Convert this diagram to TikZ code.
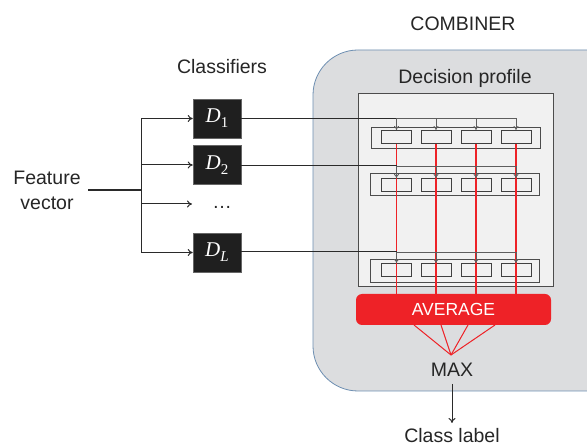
\documentclass[tikz,border=0pt]{standalone}
\usepackage{fontspec}
\setmainfont{Liberation Sans}
\newfontfamily\timesf{Liberation Serif}
\usetikzlibrary{arrows.meta}
\definecolor{cred}{HTML}{EE2227}
\definecolor{combfill}{HTML}{DCDDDF}
\definecolor{combline}{HTML}{6E8FB2}
\definecolor{proffill}{HTML}{F1F1F1}
\definecolor{darkl}{HTML}{2A2A2A}
\definecolor{grayl}{HTML}{5E5E5E}
\tikzset{
  lbl/.style={font=\fontsize{19.5}{25}\selectfont, text=black!85, inner sep=0pt},
  dbox/.style={fill=black!88, draw=black!60, line width=0.6pt, minimum width=48pt, minimum height=39pt, inner sep=0pt, text=white},
  rowbox/.style={draw=black!70, line width=0.9pt, minimum width=169pt, inner sep=0pt},
  cellbox/.style={draw=black!75, line width=0.9pt, minimum width=30pt, minimum height=13pt, inner sep=0pt},
  feed/.style={darkl, line width=1pt, -{To[length=5pt,width=7pt]}},
  inarr/.style={grayl, line width=0.8pt, -{To[length=4pt,width=5pt]}},
  hin/.style={grayl, line width=0.9pt},
  redl/.style={cred, line width=1.3pt},
}
\newcommand{\dlab}[1]{{\timesf\fontsize{21}{21}\selectfont\itshape D}\raisebox{-5pt}{\timesf\fontsize{15}{15}\selectfont #1}}
\begin{document}
\begin{tikzpicture}[x=1pt,y=-1pt]
\clip (0,0) rectangle (587,446);
\fill[white] (0,0) rectangle (587,446);

% combiner
\draw[fill=combfill, draw=combline, line width=0.8pt, rounded corners=45pt] (313,50) rectangle (660,391);
\node[lbl] (comb) at (463,24) {COMBINER};
\node[lbl] (dp) at (465,78) {Decision profile};
\draw[fill=proffill, draw=black!70, line width=1pt] (358,94) rectangle (553,287);

% classifiers
\node[lbl] (cls) at (222,67) {Classifiers};
\node[dbox] (D1) at (217,118.5) {\dlab{1}};
\node[dbox] (D2) at (217,165) {\dlab{2}};
\node[dbox] (DL) at (217,252.5) {\dlab{\itshape L}};
\node[lbl] (dots) at (222,207) {\ldots};

% feature vector
\node[lbl, align=center] (fv) at (47,190) {Feature\\vector};
\coordinate (fs) at (88,190);
\coordinate (sp) at (141,190);
\draw[darkl, line width=1.5pt] (fs) -- (sp);
\draw[darkl, line width=1pt] (141,118.5) -- (141,252.5);
\draw[feed] (141,118.5) -- (D1.west);
\draw[feed] (141,165) -- (D2.west);
\draw[feed] (141,204) -- (192,204);
\draw[feed] (141,252.5) -- (DL.west);

% rows
\node[rowbox, minimum height=21pt] (r1) at (455.5,137.5) {};
\node[rowbox, minimum height=22pt] (r2) at (455,184) {};
\node[rowbox, minimum height=23pt] (r3) at (454.5,270.5) {};
\node[cellbox] (a1) at (396.5,137) {};
\node[cellbox] (a2) at (436,137) {};
\node[cellbox] (a3) at (476,137) {};
\node[cellbox] (a4) at (516,137) {};
\node[cellbox] (b1) at (396.5,185) {};
\node[cellbox] (b2) at (436,185) {};
\node[cellbox] (b3) at (476,185) {};
\node[cellbox] (b4) at (516,185) {};
\node[cellbox] (e1) at (396.5,270) {};
\node[cellbox] (e2) at (436,270) {};
\node[cellbox] (e3) at (476,270) {};
\node[cellbox] (e4) at (516,270) {};

% red lines to average
\foreach \k in {1,2,3,4}{
  \draw[redl] (a\k.south) -- (a\k.south |- 0,296);
}

% inputs into decision profile
\coordinate (ya) at (0,118.5);
\coordinate (yb) at (0,166);
\coordinate (ye) at (0,252);
\draw[darkl, line width=1pt] (D1.east) -- (a1 |- ya);
\draw[darkl, line width=1pt] (D2.east |- yb) -- (b1 |- yb);
\draw[darkl, line width=1pt] (DL.east |- ye) -- (e1 |- ye);
\draw[hin] (a1 |- ya) -- (a4 |- ya);
\draw[hin] (b1 |- yb) -- (b4 |- yb);
\draw[hin] (e1 |- ye) -- (e4 |- ye);
\foreach \k in {1,2,3,4}{
  \draw[inarr] (a\k |- ya) -- (a\k.north);
  \draw[inarr] (b\k |- yb) -- (b\k.north);
  \draw[inarr] (e\k |- ye) -- (e\k.north);
}

% average
\node[fill=cred, rounded corners=6pt, minimum width=195pt, minimum height=31pt, inner sep=0pt, font=\fontsize{17.5}{20}\selectfont, text=white] (avg) at (453.5,309.5) {AVERAGE};
\coordinate (apex) at (451,355);
\foreach \x in {414,441,468,495}{
  \draw[cred, line width=1pt] (\x,325) -- (apex);
}
\node[lbl] (max) at (452,370) {MAX};
\node[lbl] (cl) at (452,435.5) {Class label};
\draw[darkl, line width=1pt, -{To[length=5pt,width=7pt]}] (max.south |- 0,384) -- (cl.north |- 0,423);
\end{tikzpicture}
\end{document}
